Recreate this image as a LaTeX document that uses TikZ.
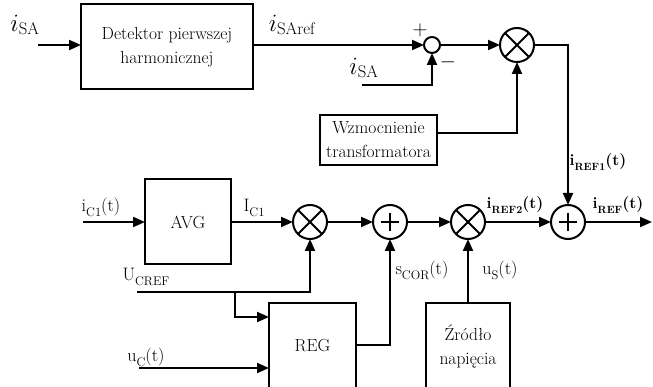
\documentclass[tikz,border=0pt]{standalone}
\usepackage{fontspec}
\usetikzlibrary{arrows.meta}
\newcommand\lsub[1]{\raisebox{-0.28em}{\fontsize{12.5}{13}\selectfont #1}}
\newcommand\bsub[1]{\raisebox{-0.28em}{\fontsize{10.5}{11}\selectfont #1}}
\begin{document}
\begin{tikzpicture}[x=1pt,y=-1pt,
  line width=2pt,
  >={Triangle[length=12pt,width=10pt]},
  blk/.style={draw, line width=2pt, inner sep=0pt, outer sep=0pt, align=center,
              font=\fontsize{17.5}{24}\selectfont},
  junc/.style={draw, circle, line width=2pt, inner sep=0pt, outer sep=0pt, minimum size=34pt},
  lab/.style={inner sep=0pt, font=\fontsize{18}{20}\selectfont},
  blab/.style={inner sep=0pt, font=\fontsize{16}{18}\selectfont\bfseries},
  mlab/.style={inner sep=0pt, font=\fontsize{24}{26}\selectfont}]
\useasboundingbox (0,0) rectangle (653,387);
\clip (0,0) rectangle (653,387);

% blocks
\node[blk, minimum width=172pt, minimum height=85pt] (det) at (167,47) {Detektor pierwszej\\harmonicznej};
\node[blk, minimum width=117pt, minimum height=50pt] (wz) at (378.5,140) {Wzmocnienie\\transformatora};
\node[blk, minimum width=86pt, minimum height=85pt] (avg) at (188,222) {AVG};
\node[blk, minimum width=87pt, minimum height=120pt] (reg) at (312.5,363) {};
\node[blk, minimum width=84pt, minimum height=120pt] (zr) at (468,363) {};
\node[lab, font=\fontsize{17.5}{24}\selectfont] (regt) at (312.5,346) {REG};
\node[lab, font=\fontsize{17.5}{24}\selectfont, align=center] (zrt) at (468,347) {Źródło\\napięcia};

% junctions
\node[draw, circle, line width=2pt, inner sep=0pt, outer sep=0pt, minimum size=16pt] (sj) at (432,45) {};
\node[junc] (m0) at (517,45) {};
\node[junc] (m1) at (310,222) {};
\node[junc] (s1) at (390,222) {};
\node[junc] (m2) at (468,222) {};
\node[junc] (s2) at (568,222) {};
\foreach \m in {m0,m1,m2}{
  \draw (\m.north east) -- (\m.south west);
  \draw (\m.north west) -- (\m.south east);
}
\foreach \s in {s1,s2}{
  \draw (\s.center) +(-9,0) -- +(9,0);
  \draw (\s.center) +(0,-9) -- +(0,9);
}

% free ends
\coordinate (in1) at (38,45);
\coordinate (isa2) at (362,85);
\coordinate (ic1in) at (83,222);
\coordinate (ucref) at (137,292);
\coordinate (br) at (235,292);
\coordinate (ucin) at (139,368);
\coordinate (out) at (652,222);

% connectors
\draw[->] (in1) -- (det.west |- in1);
\draw[->] (det.east |- sj) -- (sj.west);
\draw[->] (isa2) -| (sj.south);
\draw[->] (sj.east) -- (m0.west);
\draw[->] ([yshift=7pt]wz.east) -| (m0.south);
\draw[->] (m0.east) -| (s2.north);
\draw[->] (ic1in) -- (avg.west);
\draw[->] (avg.east) -- (m1.west);
\draw[->] (m1.east) -- (s1.west);
\draw[->] (s1.east) -- (m2.west);
\draw[->] (m2.east) -- (s2.west);
\draw[->] (s2.east) -- (out);
\draw[->] (ucref) -| (m1.south);
\draw[->] (br) |- (reg.west |- 0,317);
\draw[->] (ucin) -- (reg.west |- ucin);
\draw[->] (reg.east |- 0,345) -| (s1.south);
\draw[->] (zr.north) -- (m2.south);

% labels
\node[mlab] (l-isa) at (25,25) {$i_{\mathrm{SA}}$};
\node[mlab] (l-isaref) at (292,25) {$i_{\mathrm{SAref}}$};
\node[mlab] (l-isa2) at (364,68) {$i_{\mathrm{SA}}$};
\node[inner sep=0pt, font=\fontsize{20}{20}\selectfont] (l-plus) at (420,30) {$+$};
\node[inner sep=0pt, font=\fontsize{20}{20}\selectfont] (l-minus) at (448,62) {$-$};
\node[blab] (l-iref1) at (598,162) {i\bsub{REF1}(t)};
\node[lab] (l-ic1) at (101,207) {i\lsub{C1}(t)};
\node[lab] (l-Ic1) at (254,208) {I\lsub{C1}};
\node[lab] (l-ucref) at (146,277) {U\lsub{CREF}};
\node[lab] (l-uc) at (146,357) {u\lsub{C}(t)};
\node[lab] (l-scor) at (422,270) {s\lsub{COR}(t)};
\node[lab] (l-us) at (500,270) {u\lsub{S}(t)};
\node[blab] (l-iref2) at (515,205) {i\bsub{REF2}(t)};
\node[blab] (l-iref) at (618,205) {i\bsub{REF}(t)};
\end{tikzpicture}
\end{document}
